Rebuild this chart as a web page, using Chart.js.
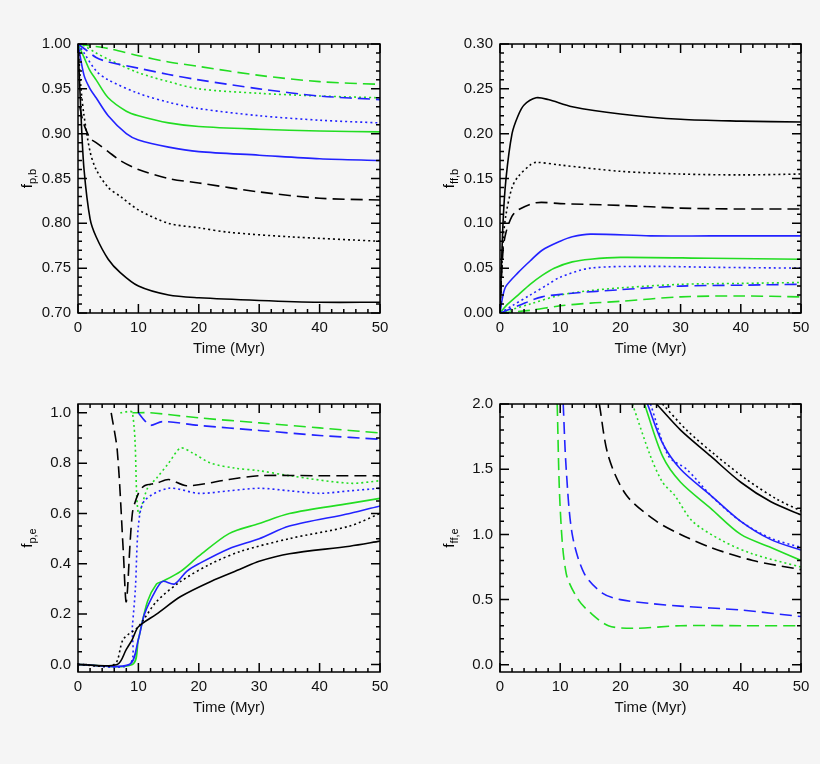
<!DOCTYPE html>
<html><head><meta charset="utf-8">
<script src="https://cdn.jsdelivr.net/npm/chart.js@4/dist/chart.umd.min.js"></script>
<style>
body{margin:0;background:#f5f5f5;width:820px;height:764px;position:relative;overflow:hidden}
.c{position:absolute;width:410px;height:382px}
</style></head><body>
<div class="c" style="left:0;top:0"><canvas id="c1"></canvas></div>
<div class="c" style="left:410px;top:0"><canvas id="c2"></canvas></div>
<div class="c" style="left:0;top:382px"><canvas id="c3"></canvas></div>
<div class="c" style="left:410px;top:382px"><canvas id="c4"></canvas></div>
<script>
// ---------- DATA ----------
const xTicks = [0,10,20,30,40,50];
const p1yTicks = [0.70,0.75,0.80,0.85,0.90,0.95,1.00];
const p2yTicks = [0.00,0.05,0.10,0.15,0.20,0.25,0.30];
const p3yTicks = [0.0,0.2,0.4,0.6,0.8,1.0];
const p4yTicks = [0.0,0.5,1.0,1.5,2.0];

// panel 1: f_p,b
const p1_blackSolid_x = [0,0.5,1,2,3,5,7,10,15,20,30,40,50];
const p1_blackSolid_y = [1.0,0.92,0.86,0.805,0.785,0.76,0.745,0.73,0.72,0.717,0.714,0.712,0.712];
const p1_blackDot_x = [0,0.5,1,2,3,5,7,10,15,20,25,35,50];
const p1_blackDot_y = [1.0,0.95,0.92,0.88,0.86,0.84,0.83,0.815,0.80,0.795,0.79,0.785,0.78];
const p1_blackDash_x = [0.3,0.6,1,2,3,5,7,10,15,20,30,40,50];
const p1_blackDash_y = [0.93,0.92,0.91,0.895,0.89,0.88,0.87,0.86,0.85,0.845,0.835,0.828,0.826];
const p1_blueSolid_x = [0,1,2,3,5,8,10,15,20,30,40,50];
const p1_blueSolid_y = [1.0,0.965,0.95,0.94,0.92,0.90,0.893,0.885,0.88,0.876,0.872,0.87];
const p1_greenSolid_x = [0,1,2,3,5,8,10,15,20,30,40,50];
const p1_greenSolid_y = [1.0,0.985,0.97,0.96,0.94,0.925,0.92,0.912,0.908,0.905,0.903,0.902];
const p1_blueDot_x = [0,1,3,5,10,15,20,30,40,50];
const p1_blueDot_y = [1.0,0.99,0.97,0.96,0.945,0.935,0.928,0.92,0.915,0.912];
const p1_greenDot_x = [0,1,3,5,10,15,20,30,40,50];
const p1_greenDot_y = [1.0,0.998,0.99,0.983,0.968,0.958,0.95,0.945,0.942,0.94];
const p1_blueDash_x = [0,1,3,5,10,15,20,30,40,50];
const p1_blueDash_y = [1.0,0.995,0.985,0.98,0.973,0.966,0.96,0.95,0.942,0.938];
const p1_greenDash_x = [0,2,5,10,15,20,30,40,50];
const p1_greenDash_y = [1.0,0.998,0.995,0.987,0.98,0.975,0.965,0.958,0.955];

// panel 2: f_ff,b
const p2_blackSolid_x = [0,0.5,1,2,3,4,6,8,12,20,30,40,50];
const p2_blackSolid_y = [0.0,0.10,0.15,0.20,0.22,0.232,0.24,0.238,0.23,0.222,0.216,0.214,0.213];
const p2_blackDot_x = [0,0.5,1,2,3,5,6,10,20,30,40,50];
const p2_blackDot_y = [0.0,0.08,0.11,0.14,0.152,0.165,0.168,0.165,0.158,0.155,0.154,0.155];
const p2_blackDash_x = [0,0.5,1,2,3,6,10,20,30,40,50];
const p2_blackDash_y = [0.0,0.07,0.09,0.108,0.115,0.123,0.122,0.12,0.117,0.116,0.116];
const p2_blueSolid_x = [0,0.5,1,3,5,7,10,12,15,25,35,50];
const p2_blueSolid_y = [0.0,0.02,0.03,0.045,0.058,0.07,0.08,0.085,0.088,0.086,0.086,0.086];
const p2_greenSolid_x = [0,1,3,5,7,9,12,15,20,35,50];
const p2_greenSolid_y = [0.0,0.008,0.02,0.032,0.042,0.05,0.057,0.06,0.062,0.061,0.06];
const p2_blueDot_x = [0,2,5,8,10,15,25,35,50];
const p2_blueDot_y = [0.0,0.008,0.02,0.032,0.04,0.05,0.052,0.051,0.05];
const p2_greenDot_x = [0,2,5,10,15,20,30,40,50];
const p2_greenDot_y = [0.0,0.004,0.01,0.02,0.025,0.028,0.032,0.033,0.034];
const p2_blueDash_x = [0,3,7,12,20,30,40,50];
const p2_blueDash_y = [0.0,0.008,0.018,0.022,0.026,0.03,0.031,0.032];
const p2_greenDash_x = [0,5,10,15,20,30,40,50];
const p2_greenDash_y = [0.0,0.003,0.008,0.011,0.013,0.018,0.019,0.018];

// panel 3: f_p,e
const p3_blackSolid_x = [0,6.5,8,9,10,13,17,22,27,30,35,45,50];
const p3_blackSolid_y = [0,0,0.06,0.1,0.15,0.2,0.27,0.33,0.38,0.41,0.44,0.47,0.49];
const p3_blackDot_x = [0,6,7.5,10,13,17,22,27,35,45,50];
const p3_blackDot_y = [0,0,0.1,0.15,0.25,0.33,0.4,0.45,0.5,0.55,0.6];
const p3_blackDash_x = [5.5,6.5,7.5,8,9,10,11,13,15,18,25,30,40,50];
const p3_blackDash_y = [1.0,0.85,0.45,0.25,0.6,0.68,0.71,0.72,0.735,0.71,0.735,0.75,0.75,0.75];
const p3_blueSolid_x = [0,8.5,10,11,13,14,16,18,20,25,30,35,45,50];
const p3_blueSolid_y = [0,0,0.1,0.2,0.3,0.33,0.32,0.37,0.4,0.46,0.5,0.55,0.6,0.63];
const p3_greenSolid_x = [0,9,10,11.5,13,14,17,20,25,30,35,45,50];
const p3_greenSolid_y = [0,0,0.1,0.25,0.32,0.33,0.37,0.43,0.52,0.56,0.6,0.64,0.66];
const p3_blueDot_x = [0,8.5,9,9.5,10,11,15,20,25,30,35,40,45,50];
const p3_blueDot_y = [0,0,0.15,0.3,0.55,0.65,0.7,0.68,0.69,0.7,0.69,0.68,0.69,0.7];
const p3_greenDot_x = [7,9,10,11.5,13,15,17,19,22,26,30,35,45,50];
const p3_greenDot_y = [1.0,1.0,0.6,0.7,0.74,0.8,0.86,0.84,0.8,0.78,0.77,0.75,0.72,0.73];
const p3_blueDash_x = [10,11,12,14,20,30,40,50];
const p3_blueDash_y = [1.0,0.97,0.95,0.965,0.95,0.93,0.91,0.895];
const p3_greenDash_x = [9,12,20,30,40,50];
const p3_greenDash_y = [1.0,1.0,0.98,0.96,0.94,0.92];

// panel 4: f_ff,e
const p4_blackSolid_x = [26,30,35,40,45,50];
const p4_blackSolid_y = [2.0,1.8,1.6,1.4,1.25,1.15];
const p4_blackDot_x = [27,31,36,41,46,50];
const p4_blackDot_y = [2.0,1.8,1.6,1.42,1.27,1.18];
const p4_blackDash_x = [16.5,18,21,26,30,35,42,50];
const p4_blackDash_y = [2.0,1.6,1.3,1.1,1.0,0.9,0.8,0.73];
const p4_blueSolid_x = [24.5,27,30,35,40,45,50];
const p4_blueSolid_y = [2.0,1.7,1.5,1.3,1.1,0.96,0.88];
const p4_greenSolid_x = [24,27,30,35,40,45,50];
const p4_greenSolid_y = [2.0,1.6,1.4,1.2,1.0,0.9,0.8];
const p4_blueDot_x = [25,28,31,35,40,45,50];
const p4_blueDot_y = [2.0,1.6,1.5,1.3,1.1,0.97,0.9];
const p4_greenDot_x = [22,25,27,29,32,37,42,50];
const p4_greenDot_y = [2.0,1.6,1.4,1.3,1.1,0.95,0.85,0.75];
const p4_blueDash_x = [10.5,11,12,14,17,20,25,30,40,50];
const p4_blueDash_y = [2.0,1.5,1.0,0.7,0.55,0.5,0.47,0.45,0.42,0.37];
const p4_greenDash_x = [9.5,10,11,13,15,18,22,30,40,50];
const p4_greenDash_y = [2.0,1.2,0.7,0.5,0.4,0.3,0.28,0.3,0.3,0.3];

// ---------- STYLE ----------
const BLACK='#000', BLUE='#2222ff', GREEN='#22dd22';
const DOT=[2,3], DASH=[12,6];
function ds(xs,ys,color,dash){
  return {data:xs.map((x,i)=>({x:x,y:ys[i]})),borderColor:color,borderDash:dash||[],borderWidth:1.6,pointRadius:0,tension:0.3,fill:false,clip:true};
}
function sets(a){
  return [
    ds(a[0],a[1],BLACK),ds(a[2],a[3],BLACK,DOT),ds(a[4],a[5],BLACK,DASH),
    ds(a[6],a[7],BLUE),ds(a[8],a[9],BLUE,DOT),ds(a[10],a[11],BLUE,DASH),
    ds(a[12],a[13],GREEN),ds(a[14],a[15],GREEN,DOT),ds(a[16],a[17],GREEN,DASH)];
}
const P1=[p1_blackSolid_x,p1_blackSolid_y,p1_blackDot_x,p1_blackDot_y,p1_blackDash_x,p1_blackDash_y,p1_blueSolid_x,p1_blueSolid_y,p1_blueDot_x,p1_blueDot_y,p1_blueDash_x,p1_blueDash_y,p1_greenSolid_x,p1_greenSolid_y,p1_greenDot_x,p1_greenDot_y,p1_greenDash_x,p1_greenDash_y];
const P2=[p2_blackSolid_x,p2_blackSolid_y,p2_blackDot_x,p2_blackDot_y,p2_blackDash_x,p2_blackDash_y,p2_blueSolid_x,p2_blueSolid_y,p2_blueDot_x,p2_blueDot_y,p2_blueDash_x,p2_blueDash_y,p2_greenSolid_x,p2_greenSolid_y,p2_greenDot_x,p2_greenDot_y,p2_greenDash_x,p2_greenDash_y];
const P3=[p3_blackSolid_x,p3_blackSolid_y,p3_blackDot_x,p3_blackDot_y,p3_blackDash_x,p3_blackDash_y,p3_blueSolid_x,p3_blueSolid_y,p3_blueDot_x,p3_blueDot_y,p3_blueDash_x,p3_blueDash_y,p3_greenSolid_x,p3_greenSolid_y,p3_greenDot_x,p3_greenDot_y,p3_greenDash_x,p3_greenDash_y];
const P4=[p4_blackSolid_x,p4_blackSolid_y,p4_blackDot_x,p4_blackDot_y,p4_blackDash_x,p4_blackDash_y,p4_blueSolid_x,p4_blueSolid_y,p4_blueDot_x,p4_blueDot_y,p4_blueDash_x,p4_blueDash_y,p4_greenSolid_x,p4_greenSolid_y,p4_greenDot_x,p4_greenDot_y,p4_greenDash_x,p4_greenDash_y];

const frame={id:'frame',afterDraw(ch){
  const c=ch.ctx,a=ch.chartArea;c.save();c.strokeStyle='#000';c.lineWidth=1.5;c.setLineDash([]);
  c.strokeRect(a.left,a.top,a.right-a.left,a.bottom-a.top);
  const xs=ch.scales.x,ys=ch.scales.y;
  const o=ch.options.plugins.frame;
  for(let v=0;v<=50;v+=2){const px=xs.getPixelForValue(v);const L=(v%10===0)?9:4;
    c.beginPath();c.moveTo(px,a.bottom);c.lineTo(px,a.bottom-L);c.moveTo(px,a.top);c.lineTo(px,a.top+L);c.stroke();}
  const st=o.minor;const n=Math.round(o.major/st);
  for(let k=Math.ceil((ys.min-1e-9)/st);k*st<=ys.max+1e-9;k++){const v=k*st;const py=ys.getPixelForValue(v);const L=(k%n===0)?9:4;
    c.beginPath();c.moveTo(a.left,py);c.lineTo(a.left+L,py);c.moveTo(a.right,py);c.lineTo(a.right-L,py);c.stroke();}
  c.fillStyle='#000';c.translate(o.tx,(a.top+a.bottom)/2);c.rotate(-Math.PI/2);
  c.font='15px "Liberation Sans"';const w1=c.measureText('f').width;
  c.font='11px "Liberation Sans"';const w2=c.measureText(o.sub).width;
  const s=-(w1+w2)/2;c.textBaseline='alphabetic';
  c.font='15px "Liberation Sans"';c.fillText('f',s,0);
  c.font='11px "Liberation Sans"';c.fillText(o.sub,s+w1,4);
  c.restore();
}};
function make(id,arr,yt,ymin,ymax,dec,sub,pad,yw,minor,major,tx){
  new Chart(document.getElementById(id),{type:'line',data:{datasets:sets(arr)},plugins:[frame],
  options:{responsive:true,maintainAspectRatio:false,animation:false,
   layout:{padding:pad},
   plugins:{legend:{display:false},tooltip:{enabled:false},frame:{sub:sub,minor:minor,major:major,tx:tx}},
   scales:{
    x:{type:'linear',min:0,max:50,grid:{display:false,tickLength:0},border:{display:false},
       afterBuildTicks:s=>{s.ticks=xTicks.map(v=>({value:v}))},
       afterFit:s=>{s.height=45},
       ticks:{color:'#111',font:{size:15,family:'Liberation Sans'},padding:6,maxRotation:0},
       title:{display:true,text:'Time (Myr)',color:'#111',font:{size:15,family:'Liberation Sans'},padding:{top:0,bottom:0}}},
    y:{type:'linear',min:ymin,max:ymax,grid:{display:false,tickLength:0},border:{display:false},
       afterBuildTicks:s=>{s.ticks=yt.map(v=>({value:v}))},
       afterFit:s=>{s.width=yw},
       ticks:{color:'#111',font:{size:15,family:'Liberation Sans'},padding:7,callback:v=>Number(v).toFixed(dec)}}
   }}});
}
make('c1',P1,p1yTicks,0.70,1.00,2,'p,b',{top:44,right:30,bottom:24},78,0.01,0.05,32);
make('c2',P2,p2yTicks,0.00,0.30,2,'ff,b',{top:44,right:19,bottom:24},90,0.01,0.05,44);
make('c3',P3,p3yTicks,-0.03,1.035,1,'p,e',{top:22,right:30,bottom:47},78,0.05,0.2,32);
make('c4',P4,p4yTicks,-0.055,2.0,1,'ff,e',{top:22,right:19,bottom:47},90,0.1,0.5,44);
</script></body></html>
